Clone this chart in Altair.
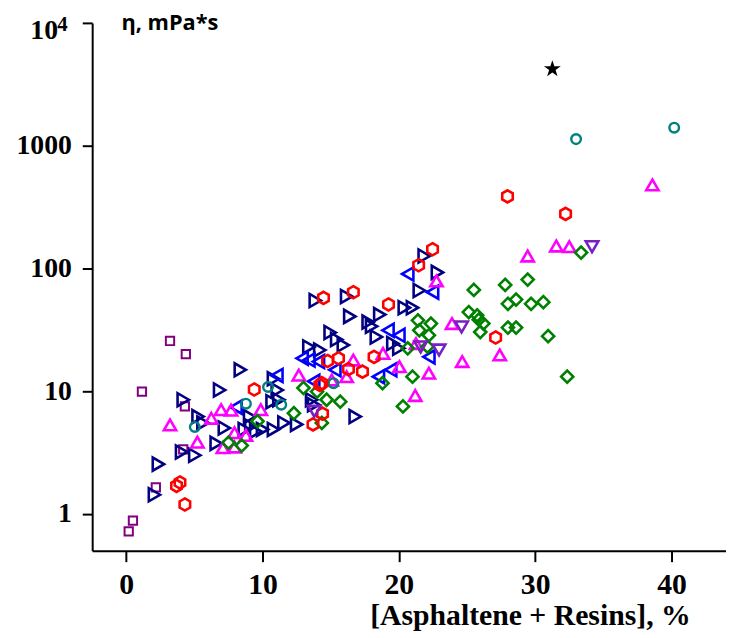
import altair as alt
import pandas as pd

# ---- data (x = [Asphaltene + Resins] %, y = viscosity mPa*s) ----
sq_x = [3.21, 4.37, 1.15, 4.3, 4.18, 2.17, 0.49, 0.18]
sq_y = [25.6, 20.0, 9.9, 7.5, 3.35, 1.64, 0.88, 0.72]

navy_x = [8.37, 6.85, 4.18, 5.27, 5.63, 7.2, 4.06, 5.03, 2.36, 2.07, 6.6, 8.66,
          11.08, 11.2, 16.4, 18.6, 17.75, 18.0, 18.35, 20.4, 21.0, 14.96, 15.44,
          15.93, 13.4, 14.2, 16.8, 11.57, 12.5, 10.0, 10.8, 13.75, 19.56, 20.0,
          21.86, 22.83, 21.5, 13.87, 16.17, 13.6, 10.8, 10.7, 9.14, 9.05, 9.5]
navy_y = [14.9, 10.2, 8.5, 6.2, 5.5, 5.0, 3.19, 3.0, 2.54, 1.43, 3.75, 4.87,
          10.2, 8.5, 40.6, 42.0, 36.5, 33.7, 27.6, 47.8, 47.8, 30.0, 26.3,
          23.7, 22.9, 21.6, 6.2, 5.5, 5.35, 4.87, 4.87, 7.75, 24.4, 22.3,
          126, 92.7, 66.0, 54.7, 59.0, 8.5, 12.6, 8.2, 5.2, 6.2, 4.7]

blue_x = [11.05, 8.05, 19.2, 20.0, 12.9, 13.4, 14.1, 13.75, 15.3, 18.5, 19.4, 22.2, 20.65, 22.47]
blue_y = [13.4, 7.4, 31.3, 28.5, 18.5, 17.9, 17.4, 12.0, 14.9, 13.1, 14.9, 19.0, 90.0, 64.0]

mag_x = [3.21, 5.22, 6.24, 6.96, 7.69, 7.09, 7.94, 7.94, 8.78, 9.87,
         12.66, 16.66, 16.17, 15.08, 18.84, 20.04, 21.26, 22.2, 21.2, 23.9,
         22.76, 24.65, 27.4, 29.45, 31.55, 32.5, 38.6]
mag_y = [5.3, 3.84, 6.0, 7.06, 7.0, 3.46, 3.5, 4.58, 4.36, 7.06,
         13.5, 17.9, 13.1, 12.3, 20.3, 15.8, 24.4, 14.0, 9.2, 35.5,
         79.0, 17.4, 19.7, 126, 152, 150, 479]

teal_x = [5.03, 8.78, 10.4, 11.37, 15.2, 33.0, 40.2]
teal_y = [5.1, 7.9, 10.8, 7.75, 11.6, 1130, 1400]

green_x = [9.63, 7.5, 8.47, 21.4, 22.35, 21.5, 22.2, 22.1, 20.65, 21.0, 18.8, 20.3,
           13.0, 14.0, 14.7, 15.7, 12.3, 14.35, 25.5, 25.13, 25.74, 25.86, 26.2,
           25.97, 27.8, 29.45, 28.6, 28.0, 29.7, 30.6, 28.0, 28.6, 30.95, 32.35, 33.37]
green_y = [5.68, 3.8, 3.6, 37.7, 35.5, 31.3, 28.5, 23.0, 22.3, 13.1, 11.6, 7.5,
           10.6, 9.9, 8.5, 8.2, 6.6, 5.5, 66.7, 44.0, 41.4, 38.2, 35.5,
           30.3, 73.3, 81.0, 55.7, 51.4, 51.4, 53.0, 32.9, 32.9, 28.0, 13.1, 134.5]

red_x = [9.39, 3.94, 3.69, 4.3, 19.24, 14.77, 15.57, 16.3, 17.33, 18.18, 14.35,
         14.2, 14.4, 13.7, 22.47, 21.45, 14.47, 16.66, 27.1, 27.97, 32.23]
red_y = [10.3, 1.8, 1.69, 1.19, 50.8, 17.6, 18.5, 15.1, 14.4, 19.0, 11.6,
         11.2, 6.55, 5.35, 143, 106, 57.5, 63.9, 27.3, 386, 278]

purple_x = [13.8, 21.6, 22.95, 24.6, 34.17]
purple_y = [6.84, 22.9, 21.6, 33.3, 150]

star_x = [31.26]
star_y = [4210]

y_ticks = [1, 10, 100, 1000, 10000]
x_ticks = [0, 10, 20, 30, 40]
exponent_text = ["4"]

HEX = "M0,-1L0.866,-0.5L0.866,0.5L0,1L-0.866,0.5L-0.866,-0.5Z"
STAR = ("M0,-1L0.2245,-0.309L0.951,-0.309L0.363,0.118L0.588,0.809L0,0.382"
        "L-0.588,0.809L-0.363,0.118L-0.951,-0.309L-0.2245,-0.309Z")

series = [
    (sq_x, sq_y, "square", "#800080", 70, 2.0, False),
    (navy_x, navy_y, "triangle-right", "#000080", 175, 2.6, False),
    (blue_x, blue_y, "triangle-left", "#0000ff", 175, 2.6, False),
    (mag_x, mag_y, "triangle-up", "#ff00ff", 155, 2.6, False),
    (teal_x, teal_y, "circle", "#008080", 95, 2.4, False),
    (green_x, green_y, "diamond", "#008000", 150, 2.6, False),
    (red_x, red_y, HEX, "#ff0000", 150, 2.6, False),
    (purple_x, purple_y, "triangle-down", "#7a1fc0", 160, 2.6, False),
    (star_x, star_y, STAR, "#000000", 320, 1.0, True),
]

xscale = alt.Scale(domain=[-2.5, 44.0], nice=False, zero=False)
yscale = alt.Scale(type="log", domain=[0.5, 10000], nice=False)

xaxis = alt.Axis(
    values=x_ticks, grid=False, labelFlush=False,
    domainColor="black", domainWidth=2, tickColor="black", tickWidth=2, tickSize=11,
    labelFont="Liberation Serif", labelFontSize=30, labelFontWeight="bold",
    labelColor="black", labelPadding=8,
    title="[Asphaltene + Resins], %", titleFont="Liberation Serif",
    titleFontSize=30, titleFontWeight="bold", titleColor="black",
    titleX=442, titleY=74, titleAlign="center", titleBaseline="alphabetic",
)
yaxis = alt.Axis(
    values=y_ticks, grid=False, labelFlush=False,
    labelExpr="format(datum.value, 'd') == '10000' ? '10' : format(datum.value, 'd')",
    labelOffset={"condition": {"test": "datum.value >= 10000", "value": 8}, "value": 0},
    labelPadding={"condition": {"test": "datum.value >= 10000", "value": 25}, "value": 11},
    domainColor="black", domainWidth=2, tickColor="black", tickWidth=2, tickSize=10,
    labelFont="Liberation Serif", labelFontSize=28, labelFontWeight="bold",
    labelColor="black",
    title="η, mPa*s", titleFont="Open Sans", titleFontSize=22,
    titleFontWeight="bold", titleColor="black", titleAngle=0,
    titleX=29, titleY=7, titleAlign="left", titleBaseline="alphabetic",
)

layers = []
for xs, ys, shape, color, size, sw, filled in series:
    df = pd.DataFrame({"x": xs, "y": ys})
    layers.append(
        alt.Chart(df).mark_point(
            shape=shape, size=size, color=color, strokeWidth=sw,
            filled=filled, opacity=1,
        ).encode(
            x=alt.X("x:Q", scale=xscale, axis=xaxis),
            y=alt.Y("y:Q", scale=yscale, axis=yaxis),
        )
    )

# superscript exponent of the 10^4 tick label
exp_layer = alt.Chart(pd.DataFrame({"t": exponent_text})).mark_text(
    font="Liberation Serif", fontSize=21, fontWeight="bold", color="black",
    align="center", baseline="alphabetic",
).encode(text="t:N", x=alt.value(-30), y=alt.value(8))
layers.append(exp_layer)

chart = alt.layer(*layers).properties(
    width=640, height=533,
    autosize=alt.AutoSizeParams(type="none"),
    padding={"left": 85, "top": 12, "right": 0, "bottom": 80},
    background="white",
).configure_view(stroke=None)

chart.save("out.html", embed_options={"renderer": "svg", "actions": False})
